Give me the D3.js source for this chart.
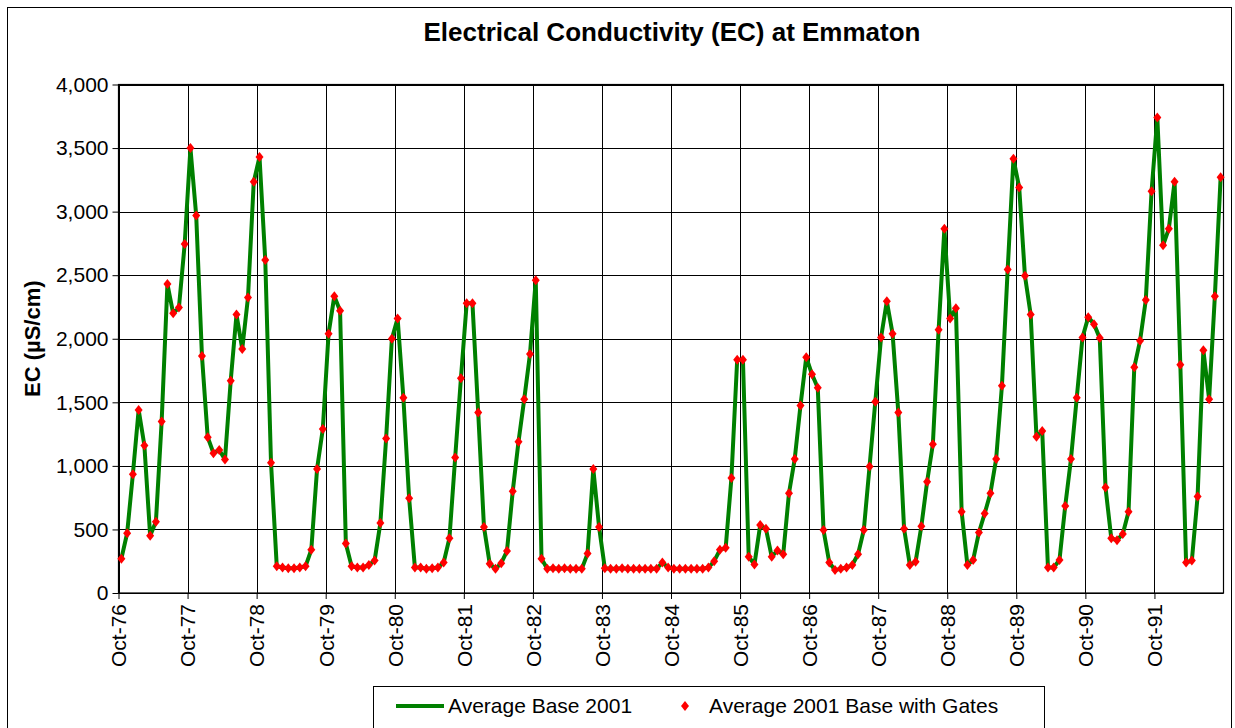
<!DOCTYPE html>
<html>
<head>
<meta charset="utf-8">
<script src="https://cdn.jsdelivr.net/npm/d3@7"></script>
<style>
  body { margin: 0; background: #fff; }
  svg { display: block; font-family: "Liberation Sans", Arial, sans-serif; }
</style>
</head>
<body>
<div id="chart"></div>
<script>
// monthly EC values, Oct-76 .. Sep-92
var baseEC = [
  270, 470, 935, 1440, 1160, 450, 560, 1350, 2430, 2200, 2245, 2745,
  3500, 2970, 1865, 1225, 1100, 1125, 1050, 1670, 2190, 1920, 2325, 3235,
  3430, 2620, 1025, 210, 200, 195, 195, 200, 210, 340, 975, 1290,
  2040, 2335, 2220, 390, 210, 200, 200, 220, 255, 550, 1215, 2000,
  2160, 1535, 745, 200, 200, 190, 195, 200, 240, 430, 1065, 1690,
  2280, 2280, 1420, 520, 230, 190, 235, 330, 800, 1190, 1525, 1880,
  2460, 270, 190, 195, 190, 195, 190, 190, 190, 310, 975, 520,
  195, 190, 190, 195, 190, 190, 190, 190, 190, 190, 240, 200,
  190, 190, 190, 190, 190, 190, 200, 250, 340, 355, 905, 1835,
  1835, 285, 225, 535, 505, 285, 335, 305, 785, 1055, 1475, 1855,
  1720, 1615, 495, 240, 180, 190, 200, 220, 305, 495, 995, 1505,
  2010, 2295, 2040, 1420, 505, 220, 245, 525, 875, 1170, 2070, 2865,
  2160, 2240, 640, 220, 260, 475, 625, 785, 1055, 1630, 2545, 3415,
  3190, 2495, 2190, 1230, 1275, 200, 200, 260, 685, 1055, 1535, 2010,
  2170, 2115, 2005, 830, 430, 415, 465, 640, 1775, 1985, 2305, 3160,
  3740, 2735, 2865, 3235, 1795, 240, 255, 760, 1910, 1525, 2335, 3270
];
// the "with Gates" markers sit on the base line
var gatesEC = baseEC;

var xTickLabels = ["Oct-76", "Oct-77", "Oct-78", "Oct-79", "Oct-80", "Oct-81", "Oct-82", "Oct-83",
                   "Oct-84", "Oct-85", "Oct-86", "Oct-87", "Oct-88", "Oct-89", "Oct-90", "Oct-91"];
var yTicks = [0, 500, 1000, 1500, 2000, 2500, 3000, 3500, 4000];
var seriesNames = ["Average Base 2001", "Average 2001 Base with Gates"];

var width = 1235, height = 728;
var plotLeft = 118.5, plotRight = 1223.5, plotTop = 84.5, plotBottom = 593;

var svg = d3.select("#chart").append("svg")
    .attr("width", width)
    .attr("height", height);

svg.append("rect")
    .attr("x", 7.5).attr("y", 7.5)
    .attr("width", 1224).attr("height", 740)
    .attr("fill", "#fff").attr("stroke", "#000").attr("stroke-width", 1);

var x = d3.scaleLinear().domain([0, baseEC.length]).range([plotLeft, plotRight]);
var y = d3.scaleLinear().domain([0, 4000]).range([plotBottom, plotTop]);

var monthTicks = xTickLabels.map(function (d, i) { return i * 12; });

// gridlines
svg.append("g").selectAll("line")
    .data(yTicks)
    .enter().append("line")
    .attr("x1", plotLeft).attr("x2", plotRight)
    .attr("y1", function (d) { return Math.round(y(d)) + 0.5; })
    .attr("y2", function (d) { return Math.round(y(d)) + 0.5; })
    .attr("stroke", "#000").attr("stroke-width", 1);

svg.append("g").selectAll("line")
    .data(monthTicks)
    .enter().append("line")
    .attr("x1", function (d) { return Math.round(x(d)) + 0.5; })
    .attr("x2", function (d) { return Math.round(x(d)) + 0.5; })
    .attr("y1", plotTop).attr("y2", plotBottom)
    .attr("stroke", "#000").attr("stroke-width", 1);

svg.append("rect")
    .attr("x", plotLeft).attr("y", plotTop)
    .attr("width", plotRight - plotLeft).attr("height", plotBottom - plotTop)
    .attr("fill", "none").attr("stroke", "#000").attr("stroke-width", 1.2);

// axes
var yAxis = svg.append("g")
    .attr("transform", "translate(" + plotLeft + ",0)")
    .call(d3.axisLeft(y).tickValues(yTicks).tickFormat(d3.format(",")).tickSize(6).tickPadding(4));
yAxis.select(".domain").remove();
yAxis.selectAll("line").attr("stroke", "#000");
yAxis.selectAll("text")
    .attr("font-size", 21)
    .attr("font-family", "Liberation Sans, Arial, sans-serif")
    .attr("fill", "#000");

var xAxis = svg.append("g")
    .attr("transform", "translate(0," + plotBottom + ")")
    .call(d3.axisBottom(x).tickValues(monthTicks)
        .tickFormat(function (d) { return xTickLabels[d / 12]; })
        .tickSize(6));
xAxis.select(".domain").remove();
xAxis.selectAll("line").attr("stroke", "#000");
xAxis.selectAll("text")
    .attr("font-size", 21)
    .attr("font-family", "Liberation Sans, Arial, sans-serif")
    .attr("fill", "#000")
    .attr("text-anchor", "end")
    .attr("transform", "rotate(-90)")
    .attr("x", -11).attr("y", 0).attr("dy", "0.35em");

// series
var line = d3.line()
    .x(function (d, i) { return x(i + 0.5); })
    .y(function (d) { return y(d); });

svg.append("path")
    .datum(baseEC)
    .attr("d", line)
    .attr("fill", "none")
    .attr("stroke", "#008000")
    .attr("stroke-width", 4)
    .attr("stroke-linejoin", "round");

var diamond = "M0,-5L4,0L0,5L-4,0Z";
svg.append("g").selectAll("path")
    .data(gatesEC)
    .enter().append("path")
    .attr("d", diamond)
    .attr("transform", function (d, i) { return "translate(" + x(i + 0.5) + "," + y(d) + ")"; })
    .attr("fill", "#ff0000");

// titles
svg.append("text")
    .attr("x", 672).attr("y", 41)
    .attr("text-anchor", "middle")
    .attr("font-size", 26).attr("font-weight", "bold")
    .text("Electrical Conductivity (EC) at Emmaton");

svg.append("text")
    .attr("transform", "translate(40," + ((plotTop + plotBottom) / 2) + ") rotate(-90)")
    .attr("text-anchor", "middle")
    .attr("font-size", 22).attr("font-weight", "bold")
    .text("EC (µS/cm)");

// legend
var lg = svg.append("g");
lg.append("rect")
    .attr("x", 373.5).attr("y", 686.5)
    .attr("width", 671).attr("height", 50)
    .attr("fill", "#fff").attr("stroke", "#000");
lg.append("line")
    .attr("x1", 396).attr("x2", 444)
    .attr("y1", 706).attr("y2", 706)
    .attr("stroke", "#008000").attr("stroke-width", 4);
lg.append("text")
    .attr("x", 448).attr("y", 713)
    .attr("font-size", 21)
    .text(seriesNames[0]);
lg.append("path")
    .attr("d", diamond)
    .attr("transform", "translate(685,706)")
    .attr("fill", "#ff0000");
lg.append("text")
    .attr("x", 709).attr("y", 713)
    .attr("font-size", 21)
    .text(seriesNames[1]);
</script>
</body>
</html>
